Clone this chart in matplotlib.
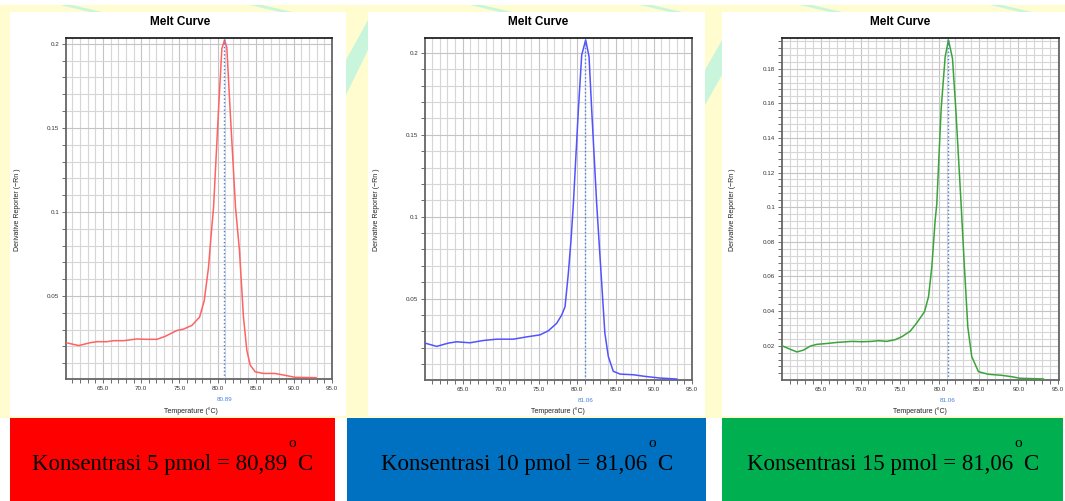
import numpy as np
import matplotlib
matplotlib.use("Agg")
import matplotlib.pyplot as plt
from matplotlib.patches import Rectangle, Polygon
from matplotlib.ticker import MultipleLocator, FixedLocator
import matplotlib.transforms as mtransforms

plt.rcParams['font.family'] = ['Liberation Sans', 'DejaVu Sans']

W, H = 1065, 501

# red curve, 5 pmol
temp_5 = [60.16, 61.82, 63.34, 64.2, 65.5, 66.4, 67.7, 69.4, 70.76, 72.07, 73.15,
          74.7, 75.55, 76.64, 77.65, 78.26, 78.82, 79.17, 79.48, 80.13, 80.57,
          80.92, 81.22, 81.66, 82.36, 82.88, 83.4, 83.84, 84.28, 84.93, 86.02,
          87.55, 89.07, 90.16, 92.91]
deriv_5 = [0.0222, 0.0205, 0.0222, 0.0228, 0.0228, 0.0234, 0.0234, 0.0244, 0.0242,
           0.0242, 0.026, 0.0295, 0.0303, 0.0325, 0.0374, 0.0472, 0.067, 0.0866,
           0.1026, 0.1604, 0.1972, 0.2022, 0.198, 0.160, 0.1026, 0.0768, 0.0374,
           0.0177, 0.0089, 0.0049, 0.0039, 0.0039, 0.0026, 0.0016, 0.0014]

# blue curve, 10 pmol
temp_10 = [60.07, 61.6, 63.12, 64.2, 65.96, 67.7, 69.45, 71.63, 73.37, 75.1, 76.2,
           77.3, 77.95, 78.39, 78.82, 79.17, 79.48, 80.13, 80.57, 81.09, 81.53,
           81.88, 82.53, 83.05, 83.6, 84.05, 84.7, 85.6, 87.33, 88.86, 90.8, 93.0]
deriv_10 = [0.0229, 0.0209, 0.0229, 0.0237, 0.0231, 0.0245, 0.0253, 0.0253, 0.0267,
            0.0279, 0.0304, 0.035, 0.040, 0.0451, 0.0654, 0.0856, 0.1078, 0.1649,
            0.1986, 0.2078, 0.1976, 0.165, 0.1078, 0.0694, 0.029, 0.0148, 0.0057,
            0.004, 0.0036, 0.0026, 0.0016, 0.001]

# green curve, 15 pmol
temp_15 = [60.04, 61.1, 61.94, 62.78, 63.63, 64.47, 65.53, 67.0, 68.9, 70.17, 71.43,
           72.28, 73.33, 74.39, 75.23, 76.29, 77.13, 78.1, 78.61, 79.03, 79.45,
           79.66, 80.21, 80.72, 81.14, 81.65, 82.07, 82.74, 83.16, 83.59, 84.09,
           84.94, 86.2, 87.89, 89.16, 90.21, 93.16]
deriv_15 = [0.02, 0.0179, 0.0164, 0.0175, 0.0198, 0.0208, 0.0212, 0.0219, 0.0225,
            0.0223, 0.0225, 0.0229, 0.0225, 0.0235, 0.0252, 0.0284, 0.0332, 0.0396,
            0.0482, 0.0655, 0.0923, 0.1019, 0.1566, 0.1868, 0.1966, 0.1858, 0.1566,
            0.1019, 0.0655, 0.0309, 0.0137, 0.005, 0.0035, 0.0029, 0.0021, 0.0012,
            0.0008]

tm_values = [80.89, 81.06, 81.06]
box_texts = ["Konsentrasi 5 pmol = 80,89", "Konsentrasi 10 pmol = 81,06",
             "Konsentrasi 15 pmol = 81,06"]
x_ticks = [65.0, 70.0, 75.0, 80.0, 85.0, 90.0, 95.0]


def fx(px):
    return px / W


def fy(py):
    return 1 - py / H


fig = plt.figure(figsize=(W / 100, H / 100), dpi=100)
fig.patch.set_facecolor('white')

# yellow/mint background behind the panels
fig.patches.append(Rectangle((0, fy(418)), 1, fy(5) - fy(418), transform=fig.transFigure,
                             facecolor='#fffdd0', edgecolor='none', zorder=0))
mint = '#c8f5dc'
for (x0, x1) in [(60, 90), (250, 280), (470, 500), (640, 670), (800, 830), (990, 1020)]:
    fig.patches.append(Polygon([(fx(x0), fy(5)), (fx(x0 + 12), fy(5)),
                                (fx(x1 + 12), fy(12)), (fx(x1), fy(12))],
                               closed=True, transform=fig.transFigure,
                               facecolor=mint, edgecolor='none', zorder=0))
fig.patches.append(Polygon([(fx(346), fy(60)), (fx(368), fy(20)), (fx(368), fy(50)),
                            (fx(346), fy(95))], closed=True, transform=fig.transFigure,
                           facecolor=mint, edgecolor='none', zorder=0))
fig.patches.append(Polygon([(fx(705), fy(70)), (fx(722), fy(40)), (fx(722), fy(75)),
                            (fx(705), fy(105))], closed=True, transform=fig.transFigure,
                           facecolor=mint, edgecolor='none', zorder=0))

# white chart panels
panel_px = [(10, 346), (368, 705), (722, 1065)]
for (x0, x1) in panel_px:
    fig.patches.append(Rectangle((fx(x0), fy(416)), fx(x1) - fx(x0), fy(12) - fy(416),
                                 transform=fig.transFigure, facecolor='white',
                                 edgecolor='none', zorder=0.5))

axes_px = [(66, 332, 38, 379), (425, 692, 38, 380), (782, 1059, 38, 380)]
xlims = [(60.15, 95.0), (60.07, 95.0), (60.04, 95.15)]
ylims = [(0.0006, 0.2035), (0.0004, 0.209), (0.0002, 0.1977)]
y_major = [0.05, 0.05, 0.02]
y_minor = [0.01, 0.01, 0.004]
curves = [(temp_5, deriv_5, '#ff6262'), (temp_10, deriv_10, '#5252ff'),
          (temp_15, deriv_15, '#3aa43a')]
title_x = [180, 538, 900]
ylabel_x = [18, 377, 733]
xlabel_x = [191, 558, 920]

for i in range(3):
    l, r, t, b = axes_px[i]
    ax = fig.add_axes([fx(l), fy(b), fx(r) - fx(l), fy(t) - fy(b)])
    ax.set_zorder(2)
    temps, vals, col = curves[i]
    ax.plot(temps, vals, color=col, lw=1.1, zorder=3)
    ax.axvline(tm_values[i], color='#4a7fe0', lw=1.0, ls=':', zorder=4)
    ax.set_xlim(*xlims[i])
    ax.set_ylim(*ylims[i])

    ax.xaxis.set_major_locator(FixedLocator(x_ticks))
    ax.xaxis.set_minor_locator(MultipleLocator(1))
    ax.yaxis.set_major_locator(MultipleLocator(y_major[i]))
    ax.yaxis.set_minor_locator(MultipleLocator(y_minor[i]))
    ax.set_xticklabels(['%.1f' % v for v in x_ticks])
    yt = [v for v in ax.get_yticks() if ylims[i][0] + 0.001 < v <= ylims[i][1]]
    ax.yaxis.set_major_locator(FixedLocator(yt))
    ax.set_yticklabels(['%g' % round(v, 3) for v in yt])

    ax.grid(True, which='major', color='#c4c4c4', lw=0.8)
    ax.grid(True, which='minor', color='#d6d6d6', lw=0.8)
    ax.set_axisbelow(True)
    ax.tick_params(which='both', labelsize=4.5, colors='#555555', labelcolor='#333333',
                   length=3, width=0.6, pad=2)
    for s in ax.spines.values():
        s.set_color('#666666')
        s.set_linewidth(1.3)
    ax.spines['top'].set_color('#222222')

    trans = mtransforms.blended_transform_factory(ax.transData, ax.transAxes)
    ax.text(tm_values[i], -0.052, '%.2f' % tm_values[i], transform=trans, color='#4a7fe0',
            fontsize=4.5, ha='center', va='top')

    fig.text(fx(title_x[i]), fy(22), 'Melt Curve', fontsize=8.5, fontweight='bold',
             ha='center', va='center')
    fig.text(fx(ylabel_x[i]), fy(210), 'Derivative Reporter (\u2212Rn )', fontsize=5,
             rotation=90, ha='center', va='center', color='#222222')
    fig.text(fx(xlabel_x[i]), fy(411), 'Temperature (\u00b0C)', fontsize=5,
             ha='center', va='center', color='#222222')

# colored result boxes with "... value" + raised "o" + "C"
box_px = [(10, 335, '#ff0000'), (347, 706, '#0070c0'), (722, 1063, '#00b050')]
renderer = fig.canvas.get_renderer()
base_y = 470
for i, (x0, x1, c) in enumerate(box_px):
    fig.patches.append(Rectangle((fx(x0), 0), fx(x1) - fx(x0), fy(418), transform=fig.transFigure,
                                 facecolor=c, edgecolor='none', zorder=1))
    t1 = fig.text(0, fy(base_y), box_texts[i], fontsize=16.5, family='Liberation Serif',
                  ha='left', va='baseline', color='black', zorder=2)
    t2 = fig.text(0, fy(base_y - 23), 'o', fontsize=11, family='Liberation Serif',
                  ha='left', va='baseline', color='black', zorder=2)
    t3 = fig.text(0, fy(base_y), 'C', fontsize=16.5, family='Liberation Serif',
                  ha='left', va='baseline', color='black', zorder=2)
    w1 = t1.get_window_extent(renderer).width
    w2 = t2.get_window_extent(renderer).width
    w3 = t3.get_window_extent(renderer).width
    gap = 1.0
    total = w1 + gap + w2 + gap + w3
    start = (x0 + x1) / 2 - total / 2
    t1.set_x(fx(start))
    t2.set_x(fx(start + w1 + gap))
    t3.set_x(fx(start + w1 + gap + w2 + gap))

fig.savefig('out.png', dpi=100)
